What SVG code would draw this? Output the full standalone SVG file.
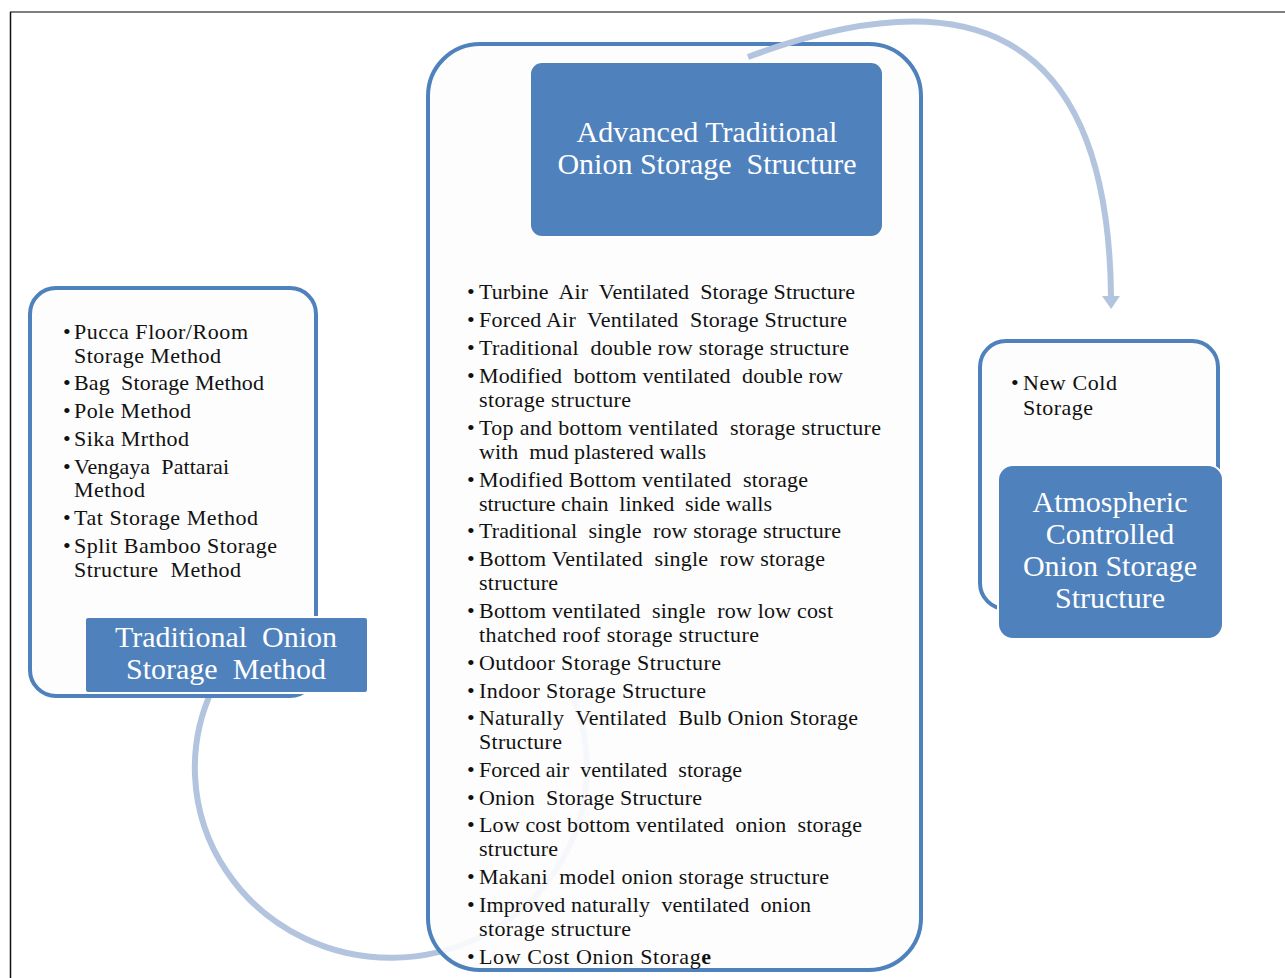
<svg xmlns="http://www.w3.org/2000/svg" width="1285" height="978" viewBox="0 0 1285 978" xml:space="preserve">
<style>
text{white-space:pre}
.frame{stroke-width:1.5;fill:none}
.outline{fill:#fdfdfd;stroke:#4f81bd;stroke-width:4}
.head{fill:#4f81bd;stroke:#ffffff;stroke-width:2}
.ht{font-family:"Liberation Serif","Times New Roman",serif;font-size:30px;fill:#ffffff;text-anchor:middle}
.li{font-family:"Liberation Serif","Times New Roman",serif;font-size:22px;fill:#111111}
.arc{fill:none;stroke:#b3c4df;stroke-width:6}
</style>
<defs>
<marker id="ah" markerUnits="userSpaceOnUse" markerWidth="13" markerHeight="18" refX="0" refY="0" orient="auto" viewBox="0 -9 13 18">
<path d="M0,-9 L13,0 L0,9 Z" fill="#b3c4df"/>
</marker>
</defs>
<rect x="0" y="0" width="1285" height="978" fill="#ffffff"/>
<g id="frame">
<line x1="10" y1="12" x2="1285" y2="12" stroke="#555555" class="frame"/>
<line x1="10.5" y1="12" x2="10.5" y2="978" stroke="#111111" class="frame"/>
</g>
<g id="connectors-back">
<path class="arc" d="M212,690 A196,190 0 1 0 568.6,687.7"/>
</g>
<g id="left-node">
<rect class="outline" x="30" y="288" width="286" height="408" rx="26"/>
<text class="li" x="63" y="339">•</text><text class="li" x="74" y="339" textLength="174">Pucca Floor/Room</text>
<text class="li" x="74" y="363" textLength="147">Storage Method</text>
<text class="li" x="63" y="390">•</text><text class="li" x="74" y="390" textLength="190">Bag  Storage Method</text>
<text class="li" x="63" y="418">•</text><text class="li" x="74" y="418" textLength="117">Pole Method</text>
<text class="li" x="63" y="446">•</text><text class="li" x="74" y="446" textLength="115">Sika Mrthod</text>
<text class="li" x="63" y="474">•</text><text class="li" x="74" y="474" textLength="155">Vengaya  Pattarai</text>
<text class="li" x="74" y="497" textLength="71">Method</text>
<text class="li" x="63" y="525">•</text><text class="li" x="74" y="525" textLength="184">Tat Storage Method</text>
<text class="li" x="63" y="553">•</text><text class="li" x="74" y="553" textLength="203">Split Bamboo Storage</text>
<text class="li" x="74" y="577" textLength="167">Structure  Method</text>
<rect class="head" x="85" y="617" width="283" height="76" rx="3"/>
<text class="ht" x="226" y="647">Traditional  Onion</text>
<text class="ht" x="226" y="679">Storage  Method</text>
</g>
<g id="middle-node">
<rect class="outline" x="428" y="44" width="493" height="926" rx="52" fill-opacity="0.9"/>
<rect class="head" x="530" y="62" width="353" height="175" rx="12"/>
<text class="ht" x="707" y="142">Advanced Traditional</text>
<text class="ht" x="707" y="174">Onion Storage  Structure</text>
<text class="li" x="467" y="299">•</text><text class="li" x="479" y="299" textLength="376">Turbine  Air  Ventilated  Storage Structure</text>
<text class="li" x="467" y="327">•</text><text class="li" x="479" y="327" textLength="368">Forced Air  Ventilated  Storage Structure</text>
<text class="li" x="467" y="355">•</text><text class="li" x="479" y="355" textLength="370">Traditional  double row storage structure</text>
<text class="li" x="467" y="383">•</text><text class="li" x="479" y="383" textLength="364">Modified  bottom ventilated  double row</text>
<text class="li" x="479" y="407" textLength="152">storage structure</text>
<text class="li" x="467" y="435">•</text><text class="li" x="479" y="435" textLength="402">Top and bottom ventilated  storage structure</text>
<text class="li" x="479" y="459" textLength="227">with  mud plastered walls</text>
<text class="li" x="467" y="487">•</text><text class="li" x="479" y="487" textLength="329">Modified Bottom ventilated  storage</text>
<text class="li" x="479" y="511" textLength="293">structure chain  linked  side walls</text>
<text class="li" x="467" y="538">•</text><text class="li" x="479" y="538" textLength="362">Traditional  single  row storage structure</text>
<text class="li" x="467" y="566">•</text><text class="li" x="479" y="566" textLength="346">Bottom Ventilated  single  row storage</text>
<text class="li" x="479" y="590" textLength="79">structure</text>
<text class="li" x="467" y="618">•</text><text class="li" x="479" y="618" textLength="354">Bottom ventilated  single  row low cost</text>
<text class="li" x="479" y="642" textLength="280">thatched roof storage structure</text>
<text class="li" x="467" y="670">•</text><text class="li" x="479" y="670" textLength="242">Outdoor Storage Structure</text>
<text class="li" x="467" y="698">•</text><text class="li" x="479" y="698" textLength="227">Indoor Storage Structure</text>
<text class="li" x="467" y="725">•</text><text class="li" x="479" y="725" textLength="379">Naturally  Ventilated  Bulb Onion Storage</text>
<text class="li" x="479" y="749" textLength="83">Structure</text>
<text class="li" x="467" y="777">•</text><text class="li" x="479" y="777" textLength="263">Forced air  ventilated  storage</text>
<text class="li" x="467" y="805">•</text><text class="li" x="479" y="805" textLength="223">Onion  Storage Structure</text>
<text class="li" x="467" y="832">•</text><text class="li" x="479" y="832" textLength="383">Low cost bottom ventilated  onion  storage</text>
<text class="li" x="479" y="856" textLength="79">structure</text>
<text class="li" x="467" y="884">•</text><text class="li" x="479" y="884" textLength="350">Makani  model onion storage structure</text>
<text class="li" x="467" y="912">•</text><text class="li" x="479" y="912" textLength="332">Improved naturally  ventilated  onion</text>
<text class="li" x="479" y="936" textLength="152">storage structure</text>
<text class="li" x="467" y="964">•</text><text class="li" x="479" y="964" textLength="232">Low Cost Onion Storag<tspan font-weight="bold">e</tspan></text>
</g>
<g id="connectors">
<path class="arc" d="M748,57 C960,-22 1108,20 1111,296" marker-end="url(#ah)"/>
</g>
<g id="right-node">
<rect class="outline" x="980" y="341" width="238" height="268" rx="26"/>
<text class="li" x="1011" y="390">•</text><text class="li" x="1023" y="390" textLength="94">New Cold</text>
<text class="li" x="1023" y="415" textLength="70">Storage</text>
<rect class="head" x="998" y="465" width="225" height="174" rx="15"/>
<text class="ht" x="1110" y="512">Atmospheric</text>
<text class="ht" x="1110" y="544">Controlled</text>
<text class="ht" x="1110" y="576">Onion Storage</text>
<text class="ht" x="1110" y="608">Structure</text>
</g>
</svg>
